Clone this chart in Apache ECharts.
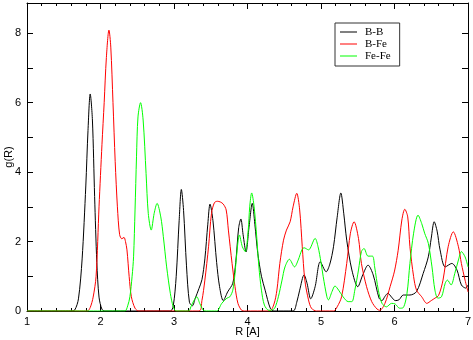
<!DOCTYPE html>
<html>
<head>
<meta charset="utf-8">
<script src="https://cdn.jsdelivr.net/npm/echarts@6/dist/echarts.min.js"></script>
<style>
  html, body { margin: 0; padding: 0; background: #fff; }
  #chart { width: 473px; height: 340px; }
</style>
</head>
<body>
<div id="chart"></div>
<script>
// g(R) curves: R [A] and g(R) per pair
var seriesNames = ['B-B', 'B-Fe', 'Fe-Fe'];
var seriesColors = ['#000000', '#ff0000', '#00ff00'];

var bbR = [1.0, 1.60, 1.65, 1.70, 1.75, 1.80, 1.83, 1.86, 1.89, 1.92, 1.95, 1.98, 2.02, 2.06,
  2.95, 2.99, 3.03, 3.07, 3.10, 3.13, 3.17, 3.21, 3.25, 3.29, 3.34, 3.38, 3.42, 3.46, 3.49, 3.53,
  3.58, 3.62, 3.67, 3.73, 3.80, 3.84, 3.88, 3.91, 3.94, 3.98, 4.02, 4.065, 4.10, 4.14, 4.19, 4.24,
  4.31, 4.36, 4.62, 4.67, 4.71, 4.77, 4.81, 4.86, 4.92, 4.99, 5.07, 5.12, 5.17, 5.22, 5.27, 5.31,
  5.35, 5.42, 5.50, 5.57, 5.64, 5.71, 5.79, 5.83, 5.87, 5.91, 5.96, 6.01, 6.06, 6.12, 6.21, 6.30,
  6.39, 6.46, 6.50, 6.54, 6.58, 6.62, 6.69, 6.78, 6.85, 6.91, 6.97, 7.0];
var bbG = [0, 0, 0.03, 0.35, 1.5, 3.6, 5.2, 6.25, 5.5, 3.3, 1.4, 0.4, 0.05, 0,
  0, 0.15, 1.0, 2.6, 3.5, 2.9, 1.3, 0.25, 0.15, 0.37, 0.65, 0.9, 1.5, 2.5, 3.08, 2.6,
  1.4, 0.7, 0.3, 0.55, 0.8, 1.4, 2.4, 2.65, 2.2, 1.7, 2.4, 3.1, 2.5, 1.66, 1.0, 0.6,
  0.08, 0, 0, 0.25, 0.6, 1.04, 0.8, 0.35, 0.7, 1.42, 1.13, 1.35, 1.85, 2.7, 3.4, 2.8,
  2.04, 1.18, 0.7, 1.05, 1.32, 1.04, 0.37, 0.3, 0.42, 0.51, 0.4, 0.3, 0.32, 0.46, 0.46, 0.56,
  1.08, 1.56, 2.1, 2.57, 2.3, 1.76, 1.27, 1.37, 1.18, 0.75, 0.66, 0.75];

var bfR = [1.0, 1.82, 1.86, 1.90, 1.94, 1.98, 2.02, 2.05, 2.08, 2.115, 2.14, 2.17, 2.20, 2.23,
  2.26, 2.29, 2.32, 2.34, 2.36, 2.39, 2.42, 2.47, 2.52, 3.34, 3.38, 3.42, 3.47, 3.51, 3.55, 3.59,
  3.63, 3.67, 3.71, 3.74, 3.79, 3.83, 3.87, 3.92, 3.96, 4.30, 4.36, 4.40, 4.44, 4.49, 4.53, 4.58,
  4.62, 4.67, 4.71, 4.745, 4.78, 4.83, 4.87, 4.94, 5.17, 5.22, 5.28, 5.35, 5.40, 5.45, 5.51, 5.55,
  5.62, 5.69, 5.76, 5.80, 5.87, 5.94, 6.00, 6.05, 6.10, 6.14, 6.18, 6.21, 6.26, 6.30, 6.37, 6.44,
  6.50, 6.55, 6.60, 6.66, 6.73, 6.80, 6.87, 6.91, 6.96, 7.0];
var bfG = [0, 0, 0.1, 0.4, 1.0, 3.0, 4.8, 6.0, 7.3, 8.09, 7.6, 6.0, 4.3, 3.0,
  2.2, 2.08, 2.12, 2.0, 1.76, 0.99, 0.41, 0.08, 0, 0, 0.3, 0.89, 1.85, 2.81, 3.12, 3.16,
  3.14, 3.08, 2.91, 2.33, 1.37, 0.7, 0.22, 0.02, 0, 0, 0.2, 0.6, 1.37, 2.04, 2.33, 2.57,
  3.0, 3.39, 2.91, 1.85, 0.89, 0.32, 0.08, 0, 0, 0.12, 0.41, 1.37, 2.24, 2.57, 2.09, 1.37,
  0.7, 0.27, 0.06, 0.02, 0.22, 0.7, 1.15, 1.75, 2.62, 2.93, 2.71, 1.85, 0.99, 0.6, 0.41, 0.22,
  0.3, 0.37, 0.45, 0.89, 1.85, 2.28, 1.85, 1.37, 0.89, 0.55];

var ffR = [1.0, 2.33, 2.37, 2.40, 2.43, 2.45, 2.47, 2.49, 2.51, 2.545, 2.58, 2.62, 2.65, 2.69,
  2.73, 2.77, 2.82, 2.855, 2.90, 2.95, 2.99, 3.03, 3.20, 3.23, 3.27, 3.31, 3.35, 3.40, 3.44, 3.58,
  3.65, 3.72, 3.76, 3.80, 3.83, 3.85, 3.89, 3.93, 3.97, 4.01, 4.03, 4.057, 4.09, 4.125, 4.155, 4.19,
  4.23, 4.29, 4.33, 4.37, 4.42, 4.47, 4.51, 4.57, 4.64, 4.69, 4.74, 4.77, 4.83, 4.92, 4.96, 5.00,
  5.03, 5.08, 5.10, 5.15, 5.19, 5.24, 5.30, 5.37, 5.42, 5.46, 5.51, 5.55, 5.585, 5.64, 5.70, 5.73,
  5.78, 5.83, 5.89, 5.96, 6.01, 6.07, 6.12, 6.17, 6.21, 6.26, 6.32, 6.37, 6.41, 6.46, 6.51, 6.55,
  6.59, 6.64, 6.69, 6.72, 6.77, 6.82, 6.87, 6.91, 6.96, 7.0];
var ffG = [0, 0, 0.15, 0.41, 1.0, 1.56, 2.91, 4.44, 5.59, 6.0, 5.5, 3.96, 2.81, 2.33,
  2.81, 3.1, 2.71, 2.14, 1.27, 0.51, 0.12, 0, 0, 0.12, 0.3, 0.41, 0.22, 0.02, 0, 0,
  0.22, 0.37, 0.41, 0.6, 1.08, 1.56, 2.19, 1.85, 1.71, 2.33, 3.0, 3.4, 3.0, 2.14, 1.27, 0.6,
  0.17, 0.02, 0.03, 0.08, 0.41, 0.89, 1.27, 1.49, 1.27, 1.47, 1.76, 1.82, 1.76, 2.09, 1.85, 1.4,
  0.99, 0.41, 0.32, 0.56, 0.72, 0.6, 0.41, 0.27, 0.27, 0.6, 1.18, 1.71, 1.8, 1.58, 1.58, 1.27,
  0.6, 0.22, 0.12, 0.22, 0.2, 0.08, 0.1, 0.51, 1.37, 2.24, 2.76, 2.52, 2.24, 1.95, 1.27, 0.6,
  0.37, 0.41, 0.8, 0.89, 0.75, 1.08, 1.47, 1.71, 1.56, 1.27];

var xTicks = [1, 2, 3, 4, 5, 6, 7];
var yTickLabels = [0, 2, 4, 6, 8];

function pairs(xs, ys) {
    var out = [];
    for (var i = 0; i < xs.length; i++) out.push([xs[i], ys[i]]);
    return out;
}

var FONT = 'Liberation Sans';
var chart = echarts.init(document.getElementById('chart'), null, {renderer: 'canvas'});

function xAxisCfg(pos, labels) {
    return {
        type: 'value', position: pos, min: xTicks[0], max: xTicks[xTicks.length - 1], interval: 1,
        name: labels ? 'R [A]' : '', nameLocation: 'middle', nameGap: 15, nameMoveOverlap: false,
        nameTextStyle: {color: '#000', fontSize: 11, fontFamily: FONT},
        axisLine: {show: true, onZero: false, lineStyle: {color: '#000', width: 1}},
        axisTick: {show: true, inside: true, length: 6, lineStyle: {color: '#000'}},
        minorTick: {show: true, splitNumber: 5, length: 3, lineStyle: {color: '#000'}},
        axisLabel: {show: labels, color: '#000', fontSize: 11, fontFamily: FONT, margin: 5},
        splitLine: {show: false}
    };
}

function yAxisCfg(pos, labels) {
    return {
        type: 'value', position: pos, min: 0, max: 8.87, interval: 1,
        name: labels ? 'g(R)' : '', nameLocation: 'middle', nameGap: 13, nameMoveOverlap: false,
        nameTextStyle: {color: '#000', fontSize: 11, fontFamily: FONT},
        axisLine: {show: true, onZero: false, lineStyle: {color: '#000', width: 1}},
        axisTick: {show: true, inside: true, length: 6, lineStyle: {color: '#000'}},
        axisLabel: {
            show: labels, color: '#000', fontSize: 11, fontFamily: FONT, margin: 6,
            formatter: function (v) { return yTickLabels.indexOf(v) >= 0 ? String(v) : ''; }
        },
        splitLine: {show: false}
    };
}

var data = [pairs(bbR, bbG), pairs(bfR, bfG), pairs(ffR, ffG)];
var series = [];
for (var i = 0; i < data.length; i++) {
    series.push({
        name: seriesNames[i],
        type: 'line',
        xAxisIndex: 0,
        yAxisIndex: 0,
        data: data[i],
        smooth: 0.3,
        symbol: 'none',
        lineStyle: {color: seriesColors[i], width: 1},
        itemStyle: {color: seriesColors[i]},
        animation: false
    });
}

chart.setOption({
    backgroundColor: '#ffffff',
    animation: false,
    color: seriesColors,
    grid: {left: 27, right: 5, top: 3, bottom: 29, containLabel: false, outerBoundsMode: 'none'},
    legend: {
        orient: 'vertical',
        left: 335,
        top: 23,
        data: seriesNames,
        icon: 'rect',
        itemWidth: 17,
        itemHeight: 1,
        itemGap: 0,
        padding: [3, 9, 4, 5],
        backgroundColor: '#ffffff',
        borderColor: '#333333',
        borderWidth: 1,
        textStyle: {color: '#000', fontSize: 11, fontFamily: 'Liberation Serif', lineHeight: 12, padding: [0, 0, 0, 3]}
    },
    xAxis: [xAxisCfg('bottom', true), xAxisCfg('top', false)],
    yAxis: [yAxisCfg('left', true), yAxisCfg('right', false)],
    series: series
});
</script>
</body>
</html>
